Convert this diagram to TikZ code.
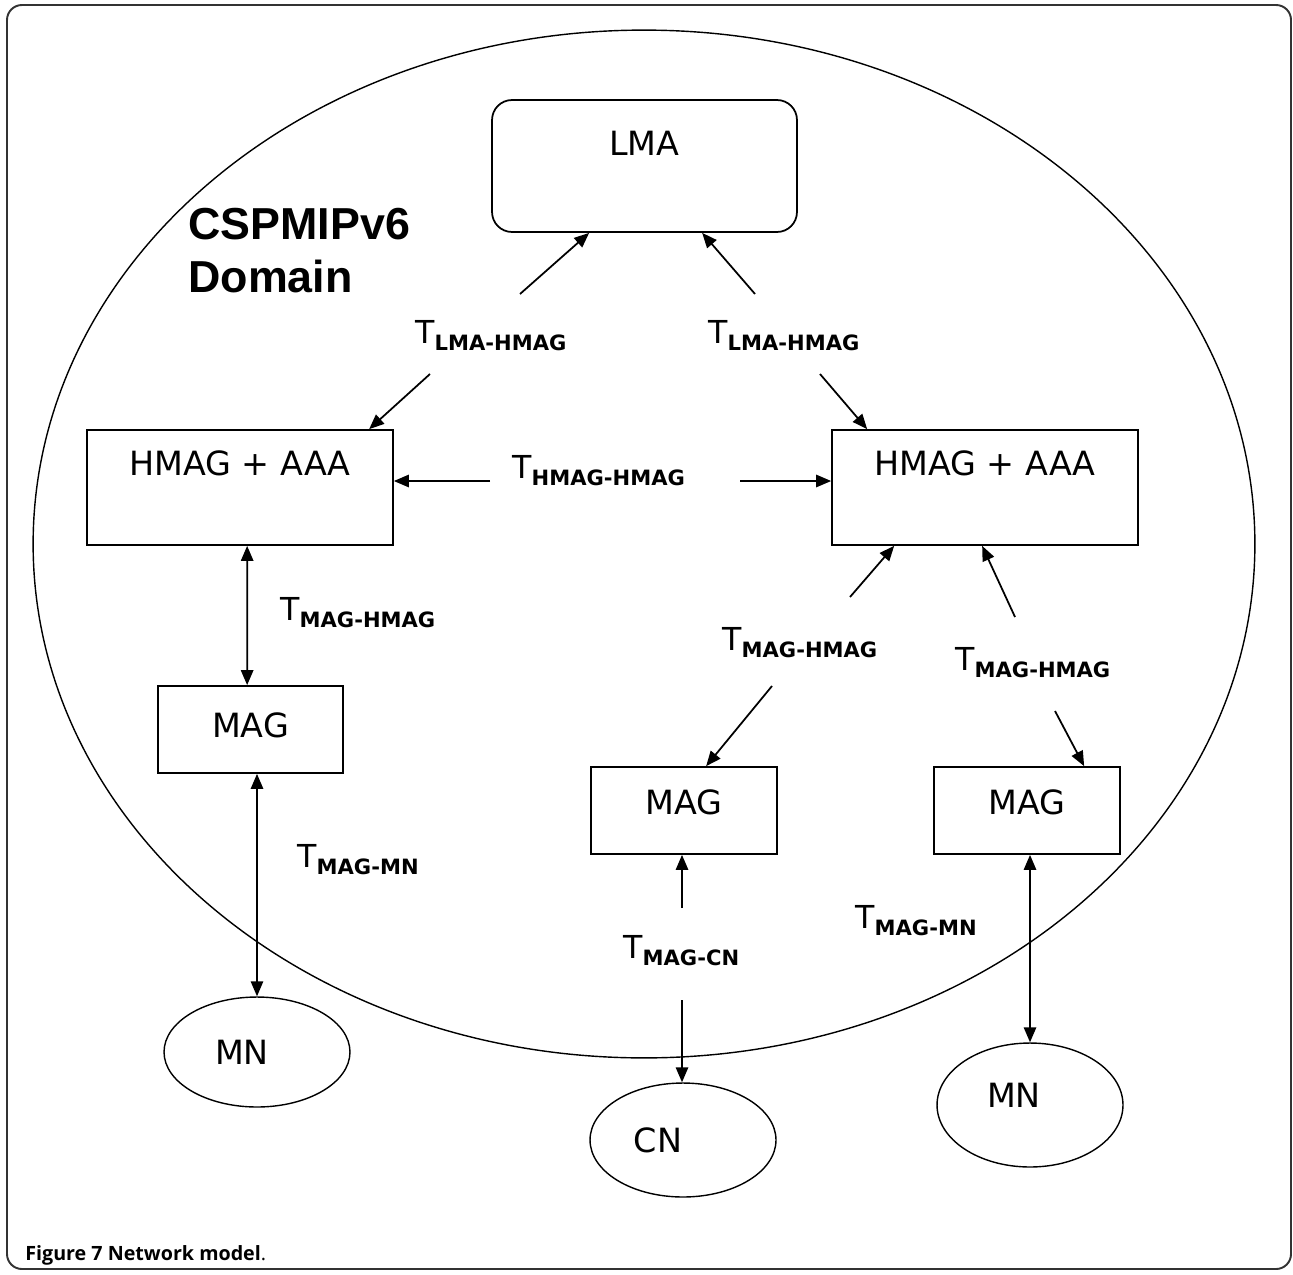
\documentclass[tikz,border=0pt]{standalone}
\usepackage{fontspec}
\setmainfont{DejaVu Sans}
\newfontfamily\capfont{Open Sans}
\newfontfamily\headfont{Liberation Sans}
\usetikzlibrary{arrows.meta,calc,shapes.geometric}

% delay label: a large T with a bold subscript
\newcommand{\linklabel}[1]{{\fontsize{18}{18}\selectfont T}\raisebox{-4pt}{\fontsize{12}{12}\selectfont\bfseries #1}}

\begin{document}
\begin{tikzpicture}[x=0.02cm,y=-0.02cm,
  box/.style={draw, line width=1pt, inner sep=0pt, font=\fontsize{19}{19}\selectfont},
  blob/.style={draw, ellipse, line width=0.8pt, inner sep=0pt, font=\fontsize{19}{19}\selectfont},
  arr/.style={line width=1pt, -{Triangle[length=8.5pt,width=7pt]}},
  dbl/.style={line width=1pt, {Triangle[length=8.5pt,width=7pt]}-{Triangle[length=8.5pt,width=7pt]}},
  lab/.style={anchor=base west, inner sep=0pt}]

\useasboundingbox (0,0) rectangle (1293,1274);

% outer frame
\draw[rounded corners=0.3cm, line width=1.1pt, black!80] (7,5) rectangle (1291,1269);

% domain boundary
\draw[line width=0.8pt] (644,544) ellipse [x radius=12.22cm, y radius=10.28cm];

\node[anchor=base west, inner sep=0pt, align=left,
      font=\headfont\bfseries\fontsize{25.5}{30}\selectfont] (domain) at (188,292) {CSPMIPv6\\Domain};

% entities
\node[box, rounded corners=0.4cm, minimum width=6.10cm, minimum height=2.64cm, text depth=0.92cm] (lma) at (644.5,166) {LMA};
\node[box, minimum width=6.12cm, minimum height=2.30cm, text depth=0.98cm] (hl) at (240,487.5) {HMAG + AAA};
\node[box, minimum width=6.12cm, minimum height=2.30cm, text depth=0.98cm] (hr) at (985,487.5) {HMAG + AAA};
\node[box, minimum width=3.70cm, minimum height=1.74cm, text depth=0.18cm] (ml) at (250.5,729.5) {MAG};
\node[box, minimum width=3.72cm, minimum height=1.74cm, text depth=0.34cm] (mm) at (684,810.5) {MAG};
\node[box, minimum width=3.72cm, minimum height=1.74cm, text depth=0.34cm] (mr) at (1027,810.5) {MAG};

\node[blob, minimum width=3.72cm, minimum height=2.2cm] (mnl) at (257,1052) {MN\hspace*{0.6cm}};
\node[blob, minimum width=3.72cm, minimum height=2.28cm] (cn) at (683,1140) {CN\hspace*{1.0cm}};
\node[blob, minimum width=3.72cm, minimum height=2.48cm, text depth=0.4cm] (mnr) at (1030,1105) {MN\hspace*{0.64cm}};

% delay labels
\node[lab] (tl1) at (415,343) {\linklabel{LMA-HMAG}};
\node[lab] (tl2) at (708,343) {\linklabel{LMA-HMAG}};
\node[lab] (thh) at (512,478) {\linklabel{HMAG-HMAG}};
\node[lab] (tm1) at (280,620) {\linklabel{MAG-HMAG}};
\node[lab] (tm2) at (722,650) {\linklabel{MAG-HMAG}};
\node[lab] (tm3) at (955,670) {\linklabel{MAG-HMAG}};
\node[lab] (tn1) at (297,867) {\linklabel{MAG-MN}};
\node[lab] (tcn) at (623,958) {\linklabel{MAG-CN}};
\node[lab] (tn2) at (855,928) {\linklabel{MAG-MN}};

% free ends of the broken arrows
\coordinate (s1) at (520,294);
\coordinate (s2) at (755,294);
\coordinate (s3) at (430,374);
\coordinate (s4) at (820,374);
\coordinate (s5) at (490,481);
\coordinate (s6) at (740,481);
\coordinate (s9) at (850,597);
\coordinate (s10) at (1015,617);
\coordinate (s11) at (772,686);
\coordinate (s12) at (1055,711);
\coordinate (s13) at (682,908);
\coordinate (s14) at (682,1000);

% connectors
\draw[arr] (s1) -- ($(lma.south west)+(98,0)$);
\draw[arr] (s2) -- ($(lma.south west)+(211,0)$);
\draw[arr] (s3) -- ($(hl.north west)+(283,0)$);
\draw[arr] (s4) -- ($(hr.north west)+(36,0)$);
\draw[arr] (s5) -- (s5 -| hl.east);
\draw[arr] (s6) -- (s6 -| hr.west);
\draw[dbl] ($(hl.south west)+(161,0)$) -- ($(ml.north west)+(90,0)$);
\draw[dbl] (mnl.north |- ml.south) -- (mnl.north);
\draw[arr] (s9) -- ($(hr.south west)+(63,0)$);
\draw[arr] (s10) -- ($(hr.south west)+(151,0)$);
\draw[arr] (s11) -- ($(mm.north west)+(116,0)$);
\draw[arr] (s12) -- ($(mr.north west)+(151,0)$);
\draw[arr] (s13) -- (s13 |- mm.south);
\draw[arr] (s14) -- (s14 |- cn.north);
\draw[dbl] (mnr.north |- mr.south) -- (mnr.north);

% caption
\node[anchor=base west, inner sep=0pt, font=\capfont\fontsize{11.2}{13}\selectfont] (caption) at (25,1260)
  {\textbf{Figure 7 Network model}.};
\end{tikzpicture}
\end{document}
